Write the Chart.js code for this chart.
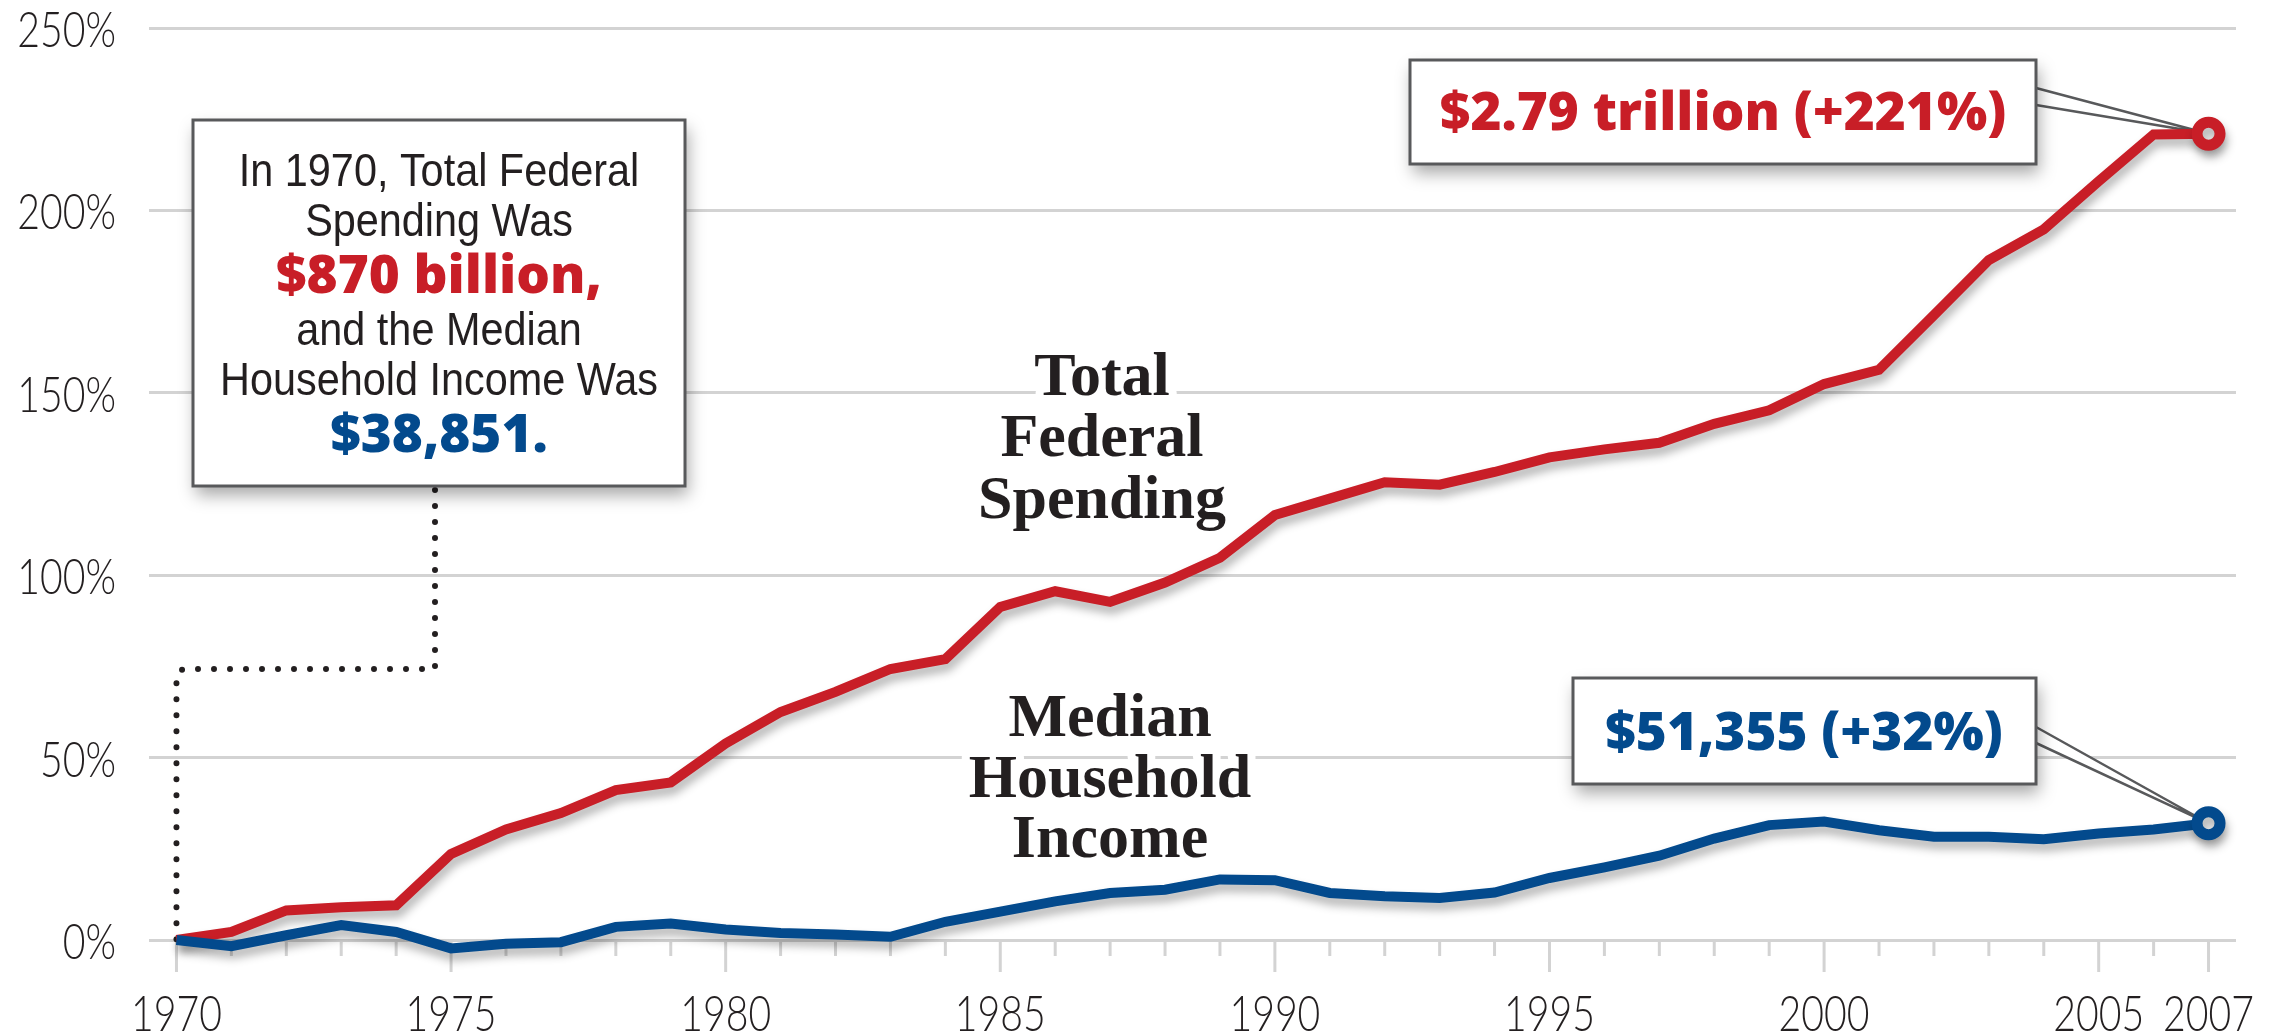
<!DOCTYPE html>
<html>
<head>
<meta charset="utf-8">
<script src="https://cdn.jsdelivr.net/npm/chart.js@4.4.1/dist/chart.umd.min.js"></script>
<style>
    html, body { margin: 0; padding: 0; background: #fff; }
</style>
</head>
<body>
<canvas id="spending-vs-income" width="2279" height="1033"></canvas>
<script>
// values, % change since 1970
const years = [
    1970, 1971, 1972, 1973, 1974, 1975, 1976, 1977, 1978, 1979,
    1980, 1981, 1982, 1983, 1984, 1985, 1986, 1987, 1988, 1989,
    1990, 1991, 1992, 1993, 1994, 1995, 1996, 1997, 1998, 1999,
    2000, 2001, 2002, 2003, 2004, 2005, 2006, 2007
];
const federalSpending = [
    0, 2.2, 8.1, 9.0, 9.5, 23.6, 30.3, 34.8, 41.1, 43.2,
    53.9, 62.5, 68.0, 74.3, 77.0, 91.3, 95.6, 92.7, 98.0, 104.8,
    116.5, 121.0, 125.5, 124.8, 128.3, 132.3, 134.5, 136.3, 141.5, 145.2,
    152.4, 156.3, 171.3, 186.4, 194.8, 208.0, 220.8, 221.0
];
const householdIncome = [
    0, -1.7, 1.3, 4.1, 2.2, -2.3, -1.0, -0.6, 3.6, 4.5,
    2.9, 1.9, 1.5, 0.9, 5.0, 7.8, 10.6, 12.9, 13.8, 16.6,
    16.4, 12.9, 12.0, 11.5, 13.0, 17.0, 19.9, 23.1, 27.8, 31.5,
    32.5, 30.1, 28.3, 28.3, 27.6, 29.2, 30.3, 32.0
];
const xTickLabels = [1970, 1975, 1980, 1985, 1990, 1995, 2000, 2005, 2007];
const yTickStep = 50;

const spendingName = ['Total', 'Federal', 'Spending'];
const incomeName = ['Median', 'Household', 'Income'];
const introLines = [
    { text: 'In 1970, Total Federal', kind: 'plain' },
    { text: 'Spending Was', kind: 'plain' },
    { text: '$870 billion,', kind: 'red' },
    { text: 'and the Median', kind: 'plain' },
    { text: 'Household Income Was', kind: 'plain' },
    { text: '$38,851.', kind: 'blue' }
];
const spendingCallout = '$2.79 trillion (+221%)';
const incomeCallout = '$51,355 (+32%)';

const RED = '#c81e27';
const BLUE = '#034a8d';
const INK = '#231f20';
const GRID = '#d3d3d3';
const FRAME = '#58595b';

const TICK_FONT = '300 49px Lato, "Liberation Sans", sans-serif';
const PLAIN_FONT = '46px "Liberation Sans", sans-serif';
const BOLD_FONT = '800 53px "Open Sans", "Liberation Sans", sans-serif';
const SERIF_FONT = 'bold 62px "Liberation Serif", "DejaVu Serif", serif';

function shadowOn (ctx, blur, dx, dy, alpha) {
    ctx.shadowColor = `rgba(0, 0, 0, ${alpha})`;
    ctx.shadowBlur = blur;
    ctx.shadowOffsetX = dx;
    ctx.shadowOffsetY = dy;
}

// the original uses a narrow Gill Sans, squeeze the installed fonts to match
function squeezedText (ctx, text, px, py, align, squeeze) {
    ctx.save();
    ctx.translate(px, py);
    ctx.scale(squeeze, 1);
    ctx.textAlign = align;
    ctx.textBaseline = 'alphabetic';
    ctx.fillText(text, 0, 0);
    ctx.restore();
}

function drawBox (ctx, x, y, w, h) {
    ctx.save();
    shadowOn(ctx, 16, 3, 9, 0.35);
    ctx.fillStyle = '#fff';
    ctx.fillRect(x, y, w, h);
    ctx.restore();
    ctx.save();
    ctx.strokeStyle = FRAME;
    ctx.lineWidth = 3;
    ctx.strokeRect(x, y, w, h);
    ctx.restore();
}

function drawPointer (ctx, fromX, y1, y2, toX, toY) {
    ctx.save();
    ctx.beginPath();
    ctx.moveTo(fromX, y1);
    ctx.lineTo(toX, toY);
    ctx.lineTo(fromX, y2);
    ctx.closePath();
    ctx.fillStyle = '#fff';
    ctx.fill();
    ctx.beginPath();
    ctx.moveTo(fromX, y1);
    ctx.lineTo(toX, toY);
    ctx.moveTo(fromX, y2);
    ctx.lineTo(toX, toY);
    ctx.strokeStyle = FRAME;
    ctx.lineWidth = 2.5;
    ctx.stroke();
    ctx.restore();
}

function haloText (ctx, lines, cx, baselines) {
    ctx.save();
    ctx.font = SERIF_FONT;
    ctx.textAlign = 'center';
    ctx.textBaseline = 'alphabetic';
    ctx.lineJoin = 'round';
    ctx.strokeStyle = '#fff';
    ctx.lineWidth = 16;
    lines.forEach((line, i) => {
        ctx.strokeText(line, cx, baselines[i]);
    });
    ctx.fillStyle = INK;
    lines.forEach((line, i) => {
        ctx.fillText(line, cx, baselines[i]);
    });
    ctx.restore();
}

// soft shadow under both lines
const lineShadow = {
    id: 'lineShadow',
    beforeDatasetDraw (chart) {
        chart.ctx.save();
        shadowOn(chart.ctx, 10, 2, 7, 0.3);
    },
    afterDatasetDraw (chart) {
        chart.ctx.restore();
    }
};

// year tick marks below the 0% line (long ones at the labelled years) and the axis labels
const axisMarks = {
    id: 'axisMarks',
    beforeDatasetsDraw (chart) {
        const { ctx, scales: { x, y } } = chart;
        const base = y.getPixelForValue(0);
        ctx.save();
        ctx.strokeStyle = GRID;
        ctx.lineWidth = 3;
        years.forEach(year => {
            const px = x.getPixelForValue(year);
            const long = xTickLabels.includes(year);
            ctx.beginPath();
            ctx.moveTo(px, base);
            ctx.lineTo(px, base + (long ? 32 : 16));
            ctx.stroke();
        });

        ctx.fillStyle = INK;
        ctx.font = TICK_FONT;
        y.ticks.forEach(tick => {
            squeezedText(ctx, tick.value + '%', 116, y.getPixelForValue(tick.value) + 19, 'right', 0.8);
        });
        x.ticks.forEach(tick => {
            squeezedText(ctx, String(tick.value), x.getPixelForValue(tick.value), base + 91, 'center', 0.8);
        });
        ctx.restore();
    }
};

const annotations = {
    id: 'annotations',
    beforeDatasetsDraw (chart) {
        const { ctx, scales: { x, y } } = chart;

        haloText(ctx, spendingName, 1102, [395, 456, 518]);
        haloText(ctx, incomeName, 1110, [736, 797, 857]);

        // dotted connector from the intro box to the 1970 start point
        const startX = x.getPixelForValue(years[0]);
        const startY = y.getPixelForValue(0);
        ctx.save();
        ctx.strokeStyle = INK;
        ctx.lineWidth = 6;
        ctx.lineCap = 'round';
        ctx.setLineDash([0, 16]);
        ctx.beginPath();
        ctx.moveTo(435, 490);
        ctx.lineTo(435, 669);
        ctx.lineTo(startX + 10, 669);
        ctx.quadraticCurveTo(startX, 669, startX, 679);
        ctx.lineTo(startX, startY);
        ctx.stroke();
        ctx.restore();

        // pointers to the 2007 end points
        const last = years.length - 1;
        const endX = x.getPixelForValue(years[last]);
        drawPointer(ctx, 2036, 88, 105, endX, y.getPixelForValue(federalSpending[last]));
        drawPointer(ctx, 2036, 727, 743, endX, y.getPixelForValue(householdIncome[last]));
    },
    afterDatasetsDraw (chart) {
        const { ctx } = chart;

        // intro box
        drawBox(ctx, 193, 120, 492, 366);
        const baselines = [186, 236, 293, 345, 395, 452];
        ctx.save();
        introLines.forEach((line, i) => {
            if (line.kind === 'plain') {
                ctx.font = PLAIN_FONT;
                ctx.fillStyle = INK;
                squeezedText(ctx, line.text, 439, baselines[i], 'center', 0.9);
            } else {
                ctx.font = BOLD_FONT;
                ctx.fillStyle = line.kind === 'red' ? RED : BLUE;
                squeezedText(ctx, line.text, 439, baselines[i], 'center', 1);
            }
        });
        ctx.restore();

        // end value callouts
        drawBox(ctx, 1410, 60, 626, 104);
        drawBox(ctx, 1573, 678, 463, 106);
        ctx.save();
        ctx.font = BOLD_FONT;
        ctx.fillStyle = RED;
        squeezedText(ctx, spendingCallout, 1723, 130, 'center', 1);
        ctx.fillStyle = BLUE;
        squeezedText(ctx, incomeCallout, 1804, 750, 'center', 1);
        ctx.restore();
    }
};

function toPoints (values) {
    return values.map((value, i) => ({ x: years[i], y: value }));
}

function endMarker (context) {
    return context.dataIndex === years.length - 1 ? 11.5 : 0;
}

function seriesStyle (color) {
    return {
        borderColor: color,
        borderWidth: 10,
        borderJoinStyle: 'miter',
        pointRadius: endMarker,
        pointHoverRadius: endMarker,
        pointBorderWidth: 11,
        pointBorderColor: color,
        pointBackgroundColor: '#fff',
        tension: 0,
        clip: false
    };
}

new Chart(
    document.getElementById('spending-vs-income'),
    {
        type: 'line',
        data: {
            datasets: [
                {
                    label: 'Median Household Income',
                    data: toPoints(householdIncome),
                    ...seriesStyle(BLUE)
                },
                {
                    label: 'Total Federal Spending',
                    data: toPoints(federalSpending),
                    ...seriesStyle(RED)
                }
            ]
        },
        options: {
            responsive: false,
            animation: false,
            devicePixelRatio: 1,
            layout: {
                padding: { top: 28, right: 43, left: 0, bottom: 0 }
            },
            plugins: {
                legend: { display: false },
                tooltip: { enabled: false }
            },
            scales: {
                x: {
                    type: 'linear',
                    min: 1969.5,
                    max: 2007.5,
                    grid: { display: false, drawTicks: false },
                    border: { display: false },
                    ticks: { display: false },
                    afterBuildTicks: scale => {
                        scale.ticks = xTickLabels.map(value => ({ value }));
                    },
                    afterFit: scale => {
                        scale.height = 93;
                        scale.paddingLeft = 0;
                        scale.paddingRight = 0;
                    }
                },
                y: {
                    min: 0,
                    max: 250,
                    grid: { color: GRID, lineWidth: 3, drawTicks: false },
                    border: { display: false },
                    ticks: { display: false, stepSize: yTickStep },
                    afterFit: scale => {
                        scale.width = 149;
                        scale.paddingTop = 0;
                        scale.paddingBottom = 0;
                    }
                }
            }
        },
        plugins: [lineShadow, axisMarks, annotations]
    }
);
</script>
</body>
</html>
